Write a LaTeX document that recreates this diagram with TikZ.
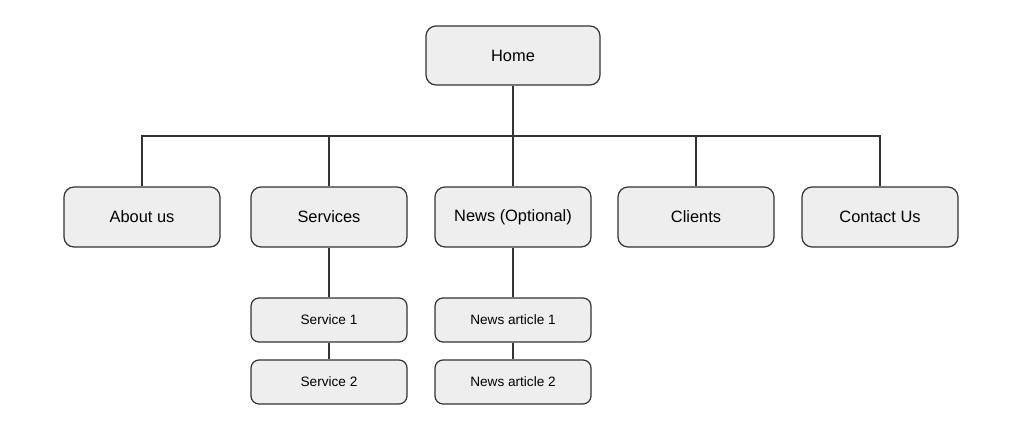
\documentclass[tikz,border=0pt]{standalone}
\usepackage{fontspec}
\setmainfont{Liberation Sans}
\definecolor{boxfill}{HTML}{EEEEEE}
\definecolor{boxline}{HTML}{333333}

\begin{document}
\begin{tikzpicture}[x=0.5pt, y=-0.5pt,
  every node/.style = {shape=rectangle, draw=boxline, fill=boxfill,
    line width=0.6pt, align=center},
  page/.style = {minimum width=78pt, minimum height=30pt,
    rounded corners=5pt, font=\fontsize{8.2}{10}\selectfont},
  subpage/.style = {minimum width=78pt, minimum height=22pt,
    rounded corners=4pt, font=\fontsize{6.8}{8}\selectfont},
  link/.style = {draw=boxline, line width=0.6pt}]

  \useasboundingbox (0,0) rectangle (1024,421);

  \node[page, minimum width=87pt, minimum height=29.5pt] (home) at (513,55.5) {Home};

  \node[page] (about)    at (142,217) {About us};
  \node[page] (services) at (329,217) {Services};
  \node[page] (news)     at (513,217) {News (Optional)};
  \node[page] (clients)  at (696,217) {Clients};
  \node[page] (contact)  at (880,217) {Contact Us};

  \node[subpage] (service1) at (329,320) {Service 1};
  \node[subpage] (service2) at (329,382) {Service 2};
  \node[subpage] (article1) at (513,320) {News article 1};
  \node[subpage] (article2) at (513,382) {News article 2};

  % fork from home down to the main pages
  \coordinate (fork) at (513,136);
  \draw[link] (home.south) -- (fork);
  \foreach \p in {about, services, news, clients, contact}
    \draw[link] (fork) -| (\p.north);

  \draw[link] (services.south) -- (service1.north);
  \draw[link] (service1.south) -- (service2.north);
  \draw[link] (news.south) -- (article1.north);
  \draw[link] (article1.south) -- (article2.north);
\end{tikzpicture}
\end{document}
